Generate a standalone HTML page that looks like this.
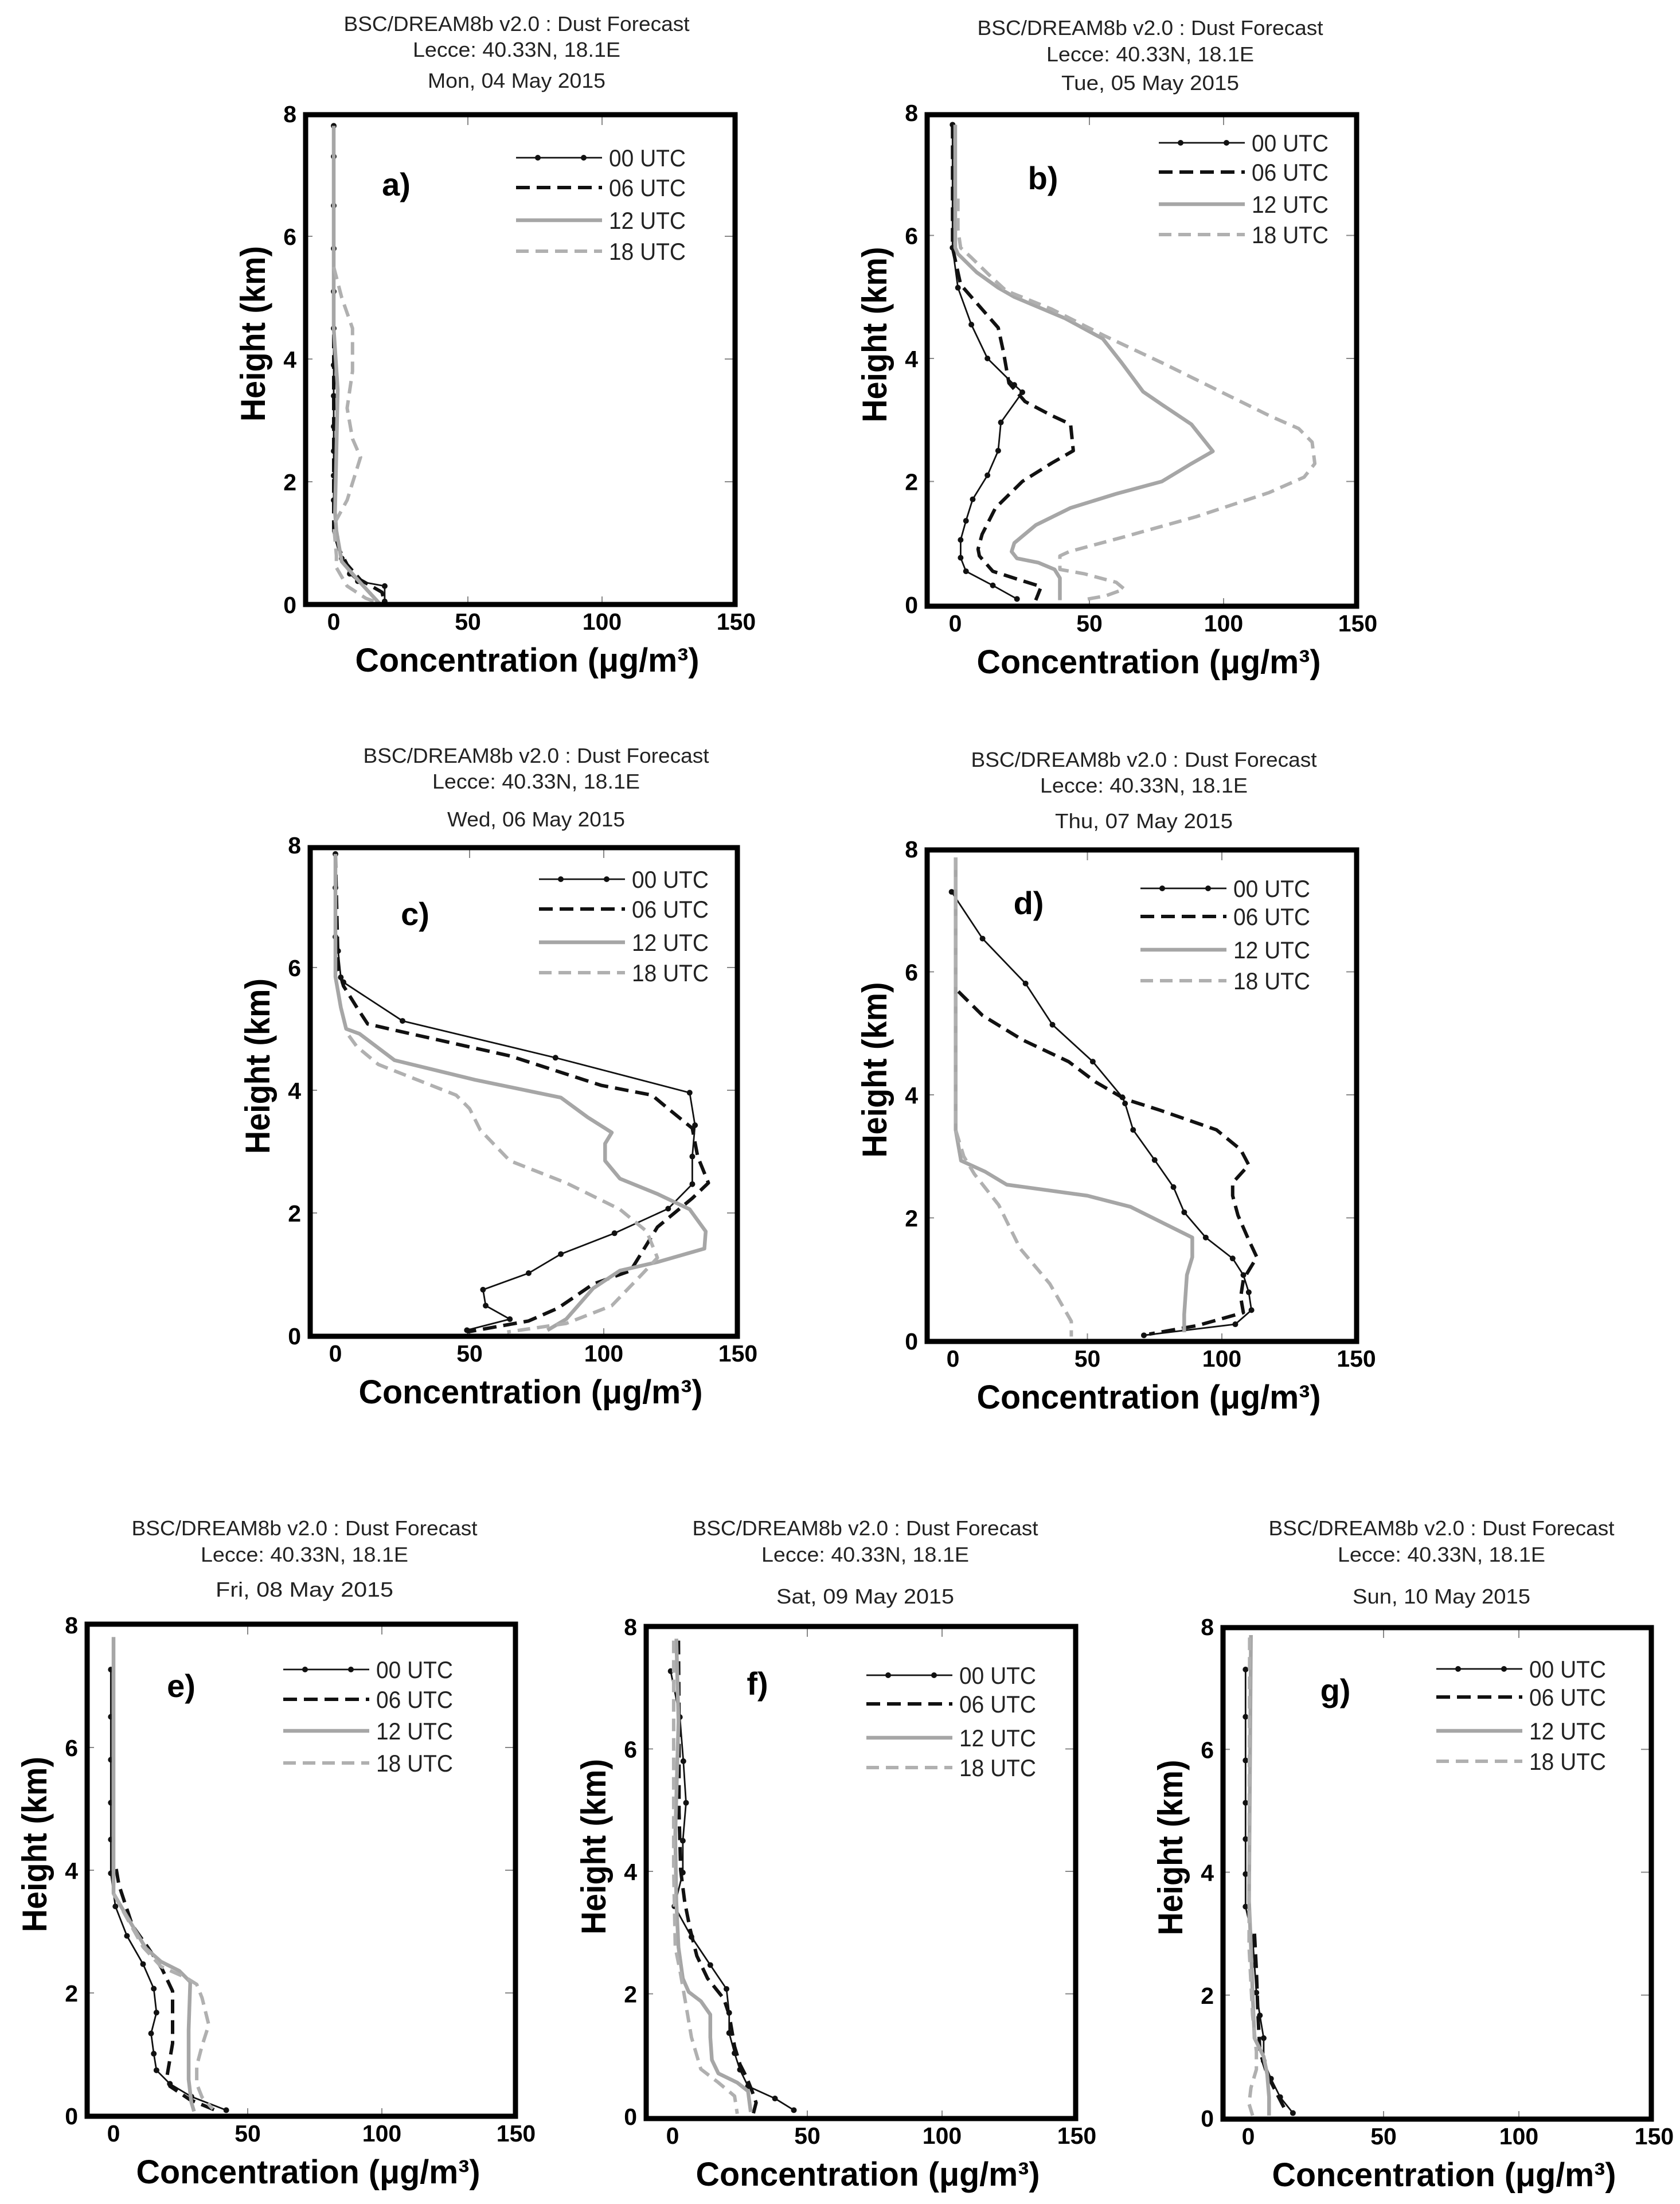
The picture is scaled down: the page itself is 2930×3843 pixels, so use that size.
<!DOCTYPE html>
<html><head><meta charset="utf-8"><style>
html,body{margin:0;padding:0;background:#fff;}
svg{display:block;}
</style></head><body>
<svg id="fig" xmlns="http://www.w3.org/2000/svg" width="2930" height="3843" viewBox="0 0 2930 3843" font-family="Liberation Sans, sans-serif"></svg>
<script>
// ---- data: [concentration (µg/m3), height (km)] ----
const dates = ["Mon, 04 May 2015","Tue, 05 May 2015","Wed, 06 May 2015","Thu, 07 May 2015","Fri, 08 May 2015","Sat, 09 May 2015","Sun, 10 May 2015"];
const panelLetters = ["a)","b)","c)","d)","e)","f)","g)"];
const seriesNames = ["00 UTC","06 UTC","12 UTC","18 UTC"];
const xTicks = [0,50,100,150];
const yTicks = [0,2,4,6,8];

const a00 = [[0,7.8],[0,7.3],[0,6.5],[0,5.8],[0,5.1],[0,4.5],[0,3.9],[0,3.4],[0,2.9],[0,2.5],[0,2.1],[0,1.7],[1,1.1],[3,0.75],[6,0.5],[9,0.38],[19,0.3],[19,0.05]];
const a06 = [[0,4.4],[0,3.5],[0,2.5],[0,1.5],[0,1.2],[2,0.9],[5,0.65],[10,0.4],[18,0.2],[19,0.02]];
const a12 = [[0,7.8],[0,6],[0,4.5],[1.5,3.5],[1,2.5],[0.5,1.5],[1,1.2],[3,0.7],[9,0.4],[17,0.02]];
const a18 = [[0,5.5],[3,5],[7,4.5],[7,3.8],[5,3.2],[7,2.7],[10,2.4],[5,1.7],[0,1.3],[1,0.8],[1,0.6],[5,0.3],[12,0.1],[17,0.02]];

const b00 = [[-1,7.8],[-1,5.8],[1,5.15],[6,4.55],[12,4.0],[22,3.57],[25,3.45],[17,2.96],[16,2.5],[12,2.1],[6.5,1.71],[4,1.36],[2,1.05],[2,0.76],[4,0.54],[14,0.31],[23,0.09]];
const b06 = [[-1,7.8],[-1,5.8],[2,5.2],[10,4.8],[16,4.5],[18,4.1],[20,3.6],[26,3.3],[36,3.07],[43,2.93],[44,2.5],[36,2.3],[25,2.0],[15,1.57],[10,1.14],[8.5,0.9],[9,0.79],[14,0.54],[24,0.4],[32,0.29],[30,0.07]];
const b12 = [[0,7.8],[0,5.8],[1,5.7],[8,5.4],[16,5.15],[22,5.0],[41,4.65],[55,4.32],[62,3.93],[70,3.46],[77,3.25],[88,2.93],[96,2.49],[88,2.29],[77,2.0],[60,1.8],[43,1.57],[30,1.29],[22,1.0],[21,0.86],[23,0.75],[31,0.68],[37,0.57],[39,0.43],[39,0.07]];
const b18 = [[1,6.6],[1,6.1],[2,5.8],[6,5.64],[14,5.3],[19,5.1],[36,4.8],[56,4.36],[77,3.93],[97,3.5],[117,3.07],[128,2.86],[133,2.64],[134,2.29],[130,2.07],[117,1.82],[90,1.43],[63,1.1],[42.5,0.86],[39,0.79],[39,0.57],[48,0.5],[60,0.36],[63,0.25],[56,0.14],[47,0.07]];

const c00 = [[0,7.85],[0,7.3],[0,6.5],[1,6.27],[2,5.84],[3,5.76],[25,5.13],[82,4.53],[132,3.96],[134,3.43],[133,2.92],[133,2.47],[124,2.07],[104,1.67],[84,1.33],[72,1.02],[55,0.75],[56,0.49],[65,0.27],[49,0.09]];
const c06 = [[0,7.85],[1,6.0],[3,5.7],[8,5.35],[12,5.08],[24,4.96],[65,4.56],[99,4.08],[118,3.92],[124,3.7],[133,3.38],[135,2.92],[139,2.49],[133,2.24],[120,1.77],[110,1.06],[96,0.84],[83,0.45],[72,0.24],[49,0.06]];
const c12 = [[0,7.85],[0,5.85],[2,5.35],[4,5.0],[9,4.92],[22,4.49],[52,4.17],[84,3.88],[94,3.56],[103,3.31],[100.5,3.13],[100.5,2.85],[106,2.56],[120,2.31],[132,2.06],[138,1.7],[137.5,1.42],[120,1.2],[106,1.06],[96,0.77],[86,0.27],[79,0.09]];
const c18 = [[5,4.89],[8,4.71],[16,4.42],[45,3.92],[50,3.7],[54,3.35],[65,2.85],[86,2.49],[106,2.06],[116,1.7],[120,1.27],[114,0.99],[103,0.49],[86,0.2],[64,0.06]];

const d00 = [[-0.5,7.3],[11,6.54],[27,5.81],[37,5.14],[52,4.54],[63,3.96],[64,3.86],[67,3.43],[75,2.94],[82,2.5],[86,2.09],[94,1.68],[104,1.34],[108,1.07],[110,0.79],[111,0.5],[105,0.27],[71,0.09]];
const d06 = [[2,5.68],[11,5.29],[26,4.89],[43,4.54],[53,4.21],[64,3.93],[77,3.75],[98,3.43],[107,3.11],[110,2.86],[104,2.57],[104,2.36],[106,2.04],[110,1.64],[113,1.36],[108,1.0],[107,0.71],[108,0.46],[91,0.25],[73,0.11]];
const d12 = [[1,7.86],[1,3.43],[3,2.93],[12,2.75],[20,2.54],[50,2.36],[66,2.18],[89,1.68],[89,1.36],[87,1.07],[86,0.43],[86,0.14]];
const d18 = [[1,7.86],[1,3.43],[4,3.0],[8,2.71],[17,2.21],[25,1.5],[36,0.93],[44,0.32],[44,0.07]];

const e00 = [[-1,7.27],[-1,6.5],[-1,5.8],[-1,5.1],[-1,4.5],[-1,3.95],[0.7,3.41],[5,2.93],[11,2.47],[15,2.07],[16,1.68],[14,1.34],[15,1.01],[16,0.74],[21,0.52],[29,0.31],[42,0.09]];
const e06 = [[1,4.02],[2,3.76],[7,3.1],[13,2.73],[18,2.4],[22,2.03],[22,1.62],[22,1.18],[20,0.66],[21,0.48],[28.5,0.26],[39,0.07]];
const e12 = [[0,7.8],[0,3.62],[4,3.32],[12,2.73],[17.7,2.51],[24.5,2.36],[28.6,2.18],[28,1.4],[28,0.59],[29,0.22],[30,0.07]];
const e18 = [[0,3.62],[4,3.3],[11,2.75],[17.7,2.43],[27,2.25],[31,2.14],[33,1.92],[35.5,1.48],[33,1.14],[31,0.81],[31,0.52],[33,0.3],[37,0.11]];

const f00 = [[-0.7,7.27],[2.7,6.52],[4,5.8],[5,5.12],[3.8,4.5],[3.8,3.98],[0.7,3.43],[7,2.93],[14,2.47],[20,2.08],[21,1.69],[21,1.36],[23,1.03],[25,0.76],[28,0.49],[38,0.29],[45,0.1]];
const f06 = [[2.2,7.77],[2.4,6.45],[2.4,4.97],[3,4.02],[4.5,3.5],[6.5,3.06],[9,2.62],[13,2.25],[19,1.92],[21,1.66],[23,1.14],[25,0.85],[27.5,0.63],[29.5,0.41],[31,0.22],[30,0.05]];
const f12 = [[1.4,7.8],[2.2,6.45],[1,4.6],[1.4,3.5],[2.2,2.76],[3.8,2.25],[6,2.03],[10.5,1.88],[14,1.66],[14,1.29],[14.6,0.92],[17,0.7],[24,0.55],[28,0.41],[29,0.07]];
const f18 = [[0.4,7.77],[0.4,4.02],[1,2.76],[2.7,2.39],[5,1.81],[7,1.29],[10.5,0.77],[17,0.55],[23,0.33],[24,0.04]];

const g00 = [[-1,7.3],[-1,6.53],[-1,5.82],[-1,5.13],[-1,4.54],[-1,3.97],[-1,3.44],[1.6,2.93],[2.3,2.49],[3,2.04],[4.3,1.67],[5.7,1.3],[5.7,0.93],[8.4,0.64],[11.8,0.34],[16.5,0.08]];
const g06 = [[2.3,3.0],[3,2.41],[3.6,1.67],[4.3,1.08],[7,0.71],[10.4,0.41],[13.8,0.12]];
const g12 = [[1,7.86],[0.3,3.53],[1,2.79],[1.6,2.04],[2.3,1.3],[5.7,1.0],[7,0.71],[7.7,0.34],[7.7,0.04]];
const g18 = [[0.5,7.82],[0.3,2.79],[1.6,1.67],[3,1.08],[3,0.79],[1,0.49],[0.3,0.23],[1.6,0.04]];

const panelData = [[a00,a06,a12,a18],[b00,b06,b12,b18],[c00,c06,c12,c18],[d00,d06,d12,d18],[e00,e06,e12,e18],[f00,f06,f12,f18],[g00,g06,g12,g18]];

// ---- layout (pixel geometry) ----
const geom = [
 {L:533,R:1282,T:200,B:1054,x0:582,x100:1050,y0:1054,y8:198,tc:901,ty:[54,99,153],lgx:900,lgy:[275,327,384,438],plx:691,ply:321},
 {L:1617,R:2366,T:200,B:1057,x0:1666,x100:2134,y0:1054,y8:196,tc:2006,ty:[61,107,157],lgx:2021,lgy:[249,300,356,409],plx:1819,ply:310},
 {L:541,R:1286,T:1478,B:2330,x0:585,x100:1053,y0:2329,y8:1473,tc:935,ty:[1330,1375,1441],lgx:940,lgy:[1533,1585,1643,1696],plx:724,ply:1593},
 {L:1617,R:2366,T:1482,B:2339,x0:1662,x100:2131,y0:2338,y8:1480,tc:1995,ty:[1337,1382,1444],lgx:1989,lgy:[1549,1598,1656,1710],plx:1794,ply:1574},
 {L:152,R:899,T:2832,B:3690,x0:198,x100:666,y0:3689,y8:2833,tc:531,ty:[2677,2723,2784],lgx:494,lgy:[2911,2963,3018,3074],plx:316,ply:2939},
 {L:1127,R:1876,T:2836,B:3694,x0:1173,x100:1643,y0:3690,y8:2836,tc:1509,ty:[2677,2723,2796],lgx:1511,lgy:[2921,2971,3030,3082],plx:1321,ply:2935},
 {L:2133,R:2880,T:2838,B:3695,x0:2177,x100:2649,y0:3693,y8:2836,tc:2514,ty:[2677,2723,2796],lgx:2505,lgy:[2910,2959,3018,3071],plx:2329,ply:2947}
];
const styles = [
 {stroke:"#111",w:2.8,dash:null,dots:true},
 {stroke:"#111",w:6,dash:"24 12",dots:false},
 {stroke:"#a6a6a6",w:6.5,dash:null,dots:false},
 {stroke:"#b0b0b0",w:6,dash:"22 12",dots:false}
];

const NS="http://www.w3.org/2000/svg";
const svg=document.getElementById('fig');
function mk(tag,attrs,parent){const e=document.createElementNS(NS,tag);for(const k in attrs)e.setAttribute(k,attrs[k]);(parent||svg).appendChild(e);return e;}

geom.forEach((g,pi)=>{
  const grp=mk('g',{});
  
  
  const sx=v=>g.x0+(g.x100-g.x0)*v/100;
  const sy=v=>g.y0-(g.y0-g.y8)*v/8;
  // titles
  const lines=["BSC/DREAM8b v2.0 : Dust Forecast","Lecce: 40.33N, 18.1E",dates[pi]];
  const lens=[603,362,310];
  lines.forEach((s,i)=>{
    const t=mk('text',{x:g.tc,y:g.ty[i],'text-anchor':'middle','font-size':36,fill:'#222',textLength:lens[i],lengthAdjust:'spacingAndGlyphs'},grp);
    t.textContent=s;
    
    
  });
  // inner ticks
  xTicks.slice(1,3).forEach(v=>{
    const x=sx(v);
    const tk=mk('line',{x1:x,x2:x,y1:g.T,y2:g.T+18,stroke:'#888','stroke-width':2},grp);
    
    
    const tb=mk('line',{x1:x,x2:x,y1:g.B,y2:g.B-14,stroke:'#888','stroke-width':2},grp);
    
    
  });
  yTicks.slice(1,4).forEach(v=>{
    const y=sy(v);
    const tk=mk('line',{x1:g.R-18,x2:g.R,y1:y,y2:y,stroke:'#888','stroke-width':2},grp);
    
    
    const tl=mk('line',{x1:g.L,x2:g.L+12,y1:y,y2:y,stroke:'#888','stroke-width':2},grp);
    
    
  });
  // series
  panelData[pi].forEach((pts,si)=>{
    const st=styles[si];
    const d=pts.map((p,i)=>(i?'L':'M')+sx(p[0]).toFixed(1)+' '+sy(p[1]).toFixed(1)).join(' ');
    const a={d:d,fill:'none',stroke:st.stroke,'stroke-width':st.w,'stroke-linejoin':'round'};
    if(st.dash)a['stroke-dasharray']=st.dash;
    const path=mk('path',a,grp);
    
    
    if(st.dots){
      pts.forEach(p=>{
        const c=mk('circle',{cx:sx(p[0]),cy:sy(p[1]),r:5,fill:st.stroke},grp);
        
        
      });
    }
  });
  // frame
  const fr=mk('rect',{x:g.L,y:g.T,width:g.R-g.L,height:g.B-g.T,fill:'none',stroke:'#000','stroke-width':9},grp);
  
  
  // tick labels
  xTicks.forEach(v=>{
    const t=mk('text',{x:sx(v),y:g.B+44,'text-anchor':'middle','font-size':41,'font-weight':'bold',fill:'#000'},grp);
    t.textContent=v;
    
    
  });
  yTicks.forEach(v=>{
    const t=mk('text',{x:g.L-16,y:sy(v)+15,'text-anchor':'end','font-size':41,'font-weight':'bold',fill:'#000'},grp);
    t.textContent=v;
    
    
  });
  // axis titles
  const xt=mk('text',{x:(g.L+g.R)/2+12,y:g.B+117,'text-anchor':'middle','font-size':58,'font-weight':'bold',fill:'#000',textLength:600,lengthAdjust:'spacingAndGlyphs'},grp);
  xt.textContent='Concentration (\u03BCg/m\u00B3)';
  
  
  const cy=(g.T+g.B)/2-45, cx=g.L-92;
  const yt=mk('text',{x:cx,y:cy,'text-anchor':'middle','font-size':60,'font-weight':'bold',fill:'#000',textLength:306,lengthAdjust:'spacingAndGlyphs',transform:'rotate(-90 '+cx+' '+cy+') translate(0 21)'},grp);
  yt.textContent='Height (km)';
  
  
  // panel letter
  const pl=mk('text',{x:g.plx,y:g.ply+20,'text-anchor':'middle','font-size':56,'font-weight':'bold',fill:'#000'},grp);
  pl.textContent=panelLetters[pi];
  
  
  // legend
  seriesNames.forEach((nm,si)=>{
    const st=styles[si];
    const y=g.lgy[si], x1=g.lgx, x2=x1+150;
    const a={x1:x1,x2:x2,y1:y,y2:y,stroke:st.stroke,'stroke-width':st.w};
    if(st.dash)a['stroke-dasharray']=st.dash;
    const ln=mk('line',a,grp);
    
    
    if(st.dots){[x1+38,x1+118].forEach(xx=>{
      const c=mk('circle',{cx:xx,cy:y,r:5,fill:st.stroke},grp);
      
      
    });}
    const t=mk('text',{x:x2+12,y:y+15,'font-size':42,fill:'#222',textLength:134,lengthAdjust:'spacingAndGlyphs'},grp);
    t.textContent=nm;
    
    
  });
});
</script>
</body></html>
